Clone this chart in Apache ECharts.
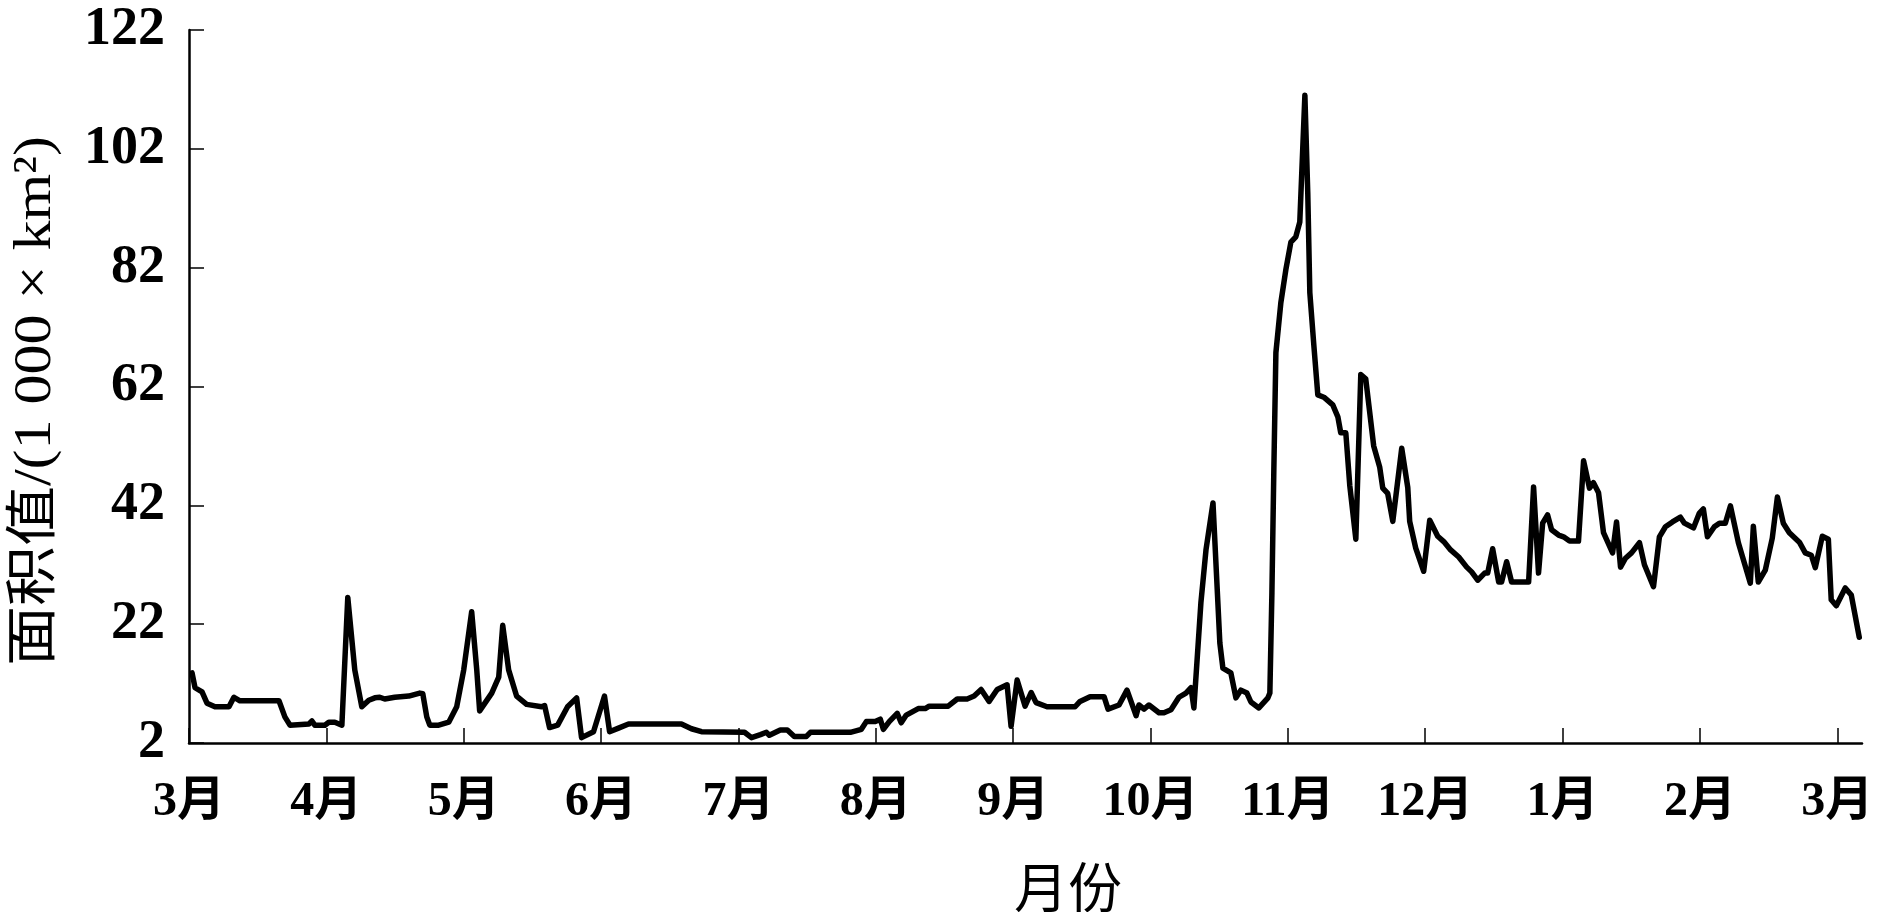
<!DOCTYPE html>
<html>
<head>
<meta charset="utf-8">
<script src="https://cdn.jsdelivr.net/npm/echarts@6/dist/echarts.min.js"></script>
<style>
html,body{margin:0;padding:0;background:#fff;}
#chart{width:1890px;height:912px;}
</style>
</head>
<body>
<div id="chart"></div>
<script>
// Tick labels
const monthLabels = ['3月','4月','5月','6月','7月','8月','9月','10月','11月','12月','1月','2月','3月'];
const yMin = 2, yMax = 122, yStep = 20;
const xMax = 12.18;
const yAxisTitle = '面积值/(1 000 × km²)';
const xAxisTitle = '月份';

// Position along the time axis, in months since the start of March
const monthPos = [
 0.022,0.044,0.095,0.131,0.189,0.291,0.327,0.371,0.655,0.698,
 0.735,0.873,0.895,0.916,0.989,1.018,1.062,1.113,1.156,1.207,
 1.258,1.309,1.353,1.389,1.425,1.498,1.600,1.680,1.702,1.731,
 1.753,1.818,1.891,1.949,2.000,2.058,2.095,2.116,2.204,2.255,
 2.284,2.327,2.385,2.458,2.567,2.589,2.625,2.684,2.756,2.822,
 2.858,2.945,3.025,3.062,3.127,3.200,3.585,3.658,3.731,4.044,
 4.095,4.160,4.204,4.225,4.305,4.356,4.407,4.495,4.524,4.815,
 4.895,4.931,4.996,5.033,5.055,5.098,5.156,5.185,5.222,5.309,
 5.360,5.389,5.527,5.593,5.665,5.716,5.767,5.825,5.884,5.956,
 5.985,6.029,6.087,6.131,6.167,6.247,6.451,6.487,6.560,6.662,
 6.691,6.771,6.829,6.895,6.916,6.953,6.989,7.062,7.098,7.149,
 7.207,7.258,7.295,7.316,7.367,7.404,7.455,7.505,7.527,7.585,
 7.622,7.658,7.702,7.731,7.789,7.855,7.869,7.884,7.898,7.913,
 7.949,7.985,8.022,8.058,8.087,8.124,8.145,8.160,8.189,8.218,
 8.262,8.327,8.364,8.385,8.422,8.451,8.495,8.531,8.567,8.625,
 8.669,8.691,8.727,8.764,8.829,8.873,8.887,8.931,8.989,9.033,
 9.091,9.135,9.185,9.244,9.302,9.338,9.382,9.433,9.455,9.491,
 9.535,9.556,9.593,9.629,9.753,9.789,9.825,9.855,9.891,9.920,
 9.971,10.007,10.051,10.116,10.153,10.196,10.225,10.262,10.298,10.364,
 10.393,10.422,10.458,10.502,10.560,10.596,10.662,10.705,10.749,10.800,
 10.858,10.887,10.953,10.996,11.025,11.055,11.105,11.142,11.185,11.222,
 11.280,11.367,11.389,11.425,11.476,11.527,11.564,11.607,11.651,11.724,
 11.767,11.811,11.840,11.891,11.935,11.956,11.993,12.058,12.102,12.160
];

// Area value (1 000 km²)
const area = [
 13.8,11.3,10.6,8.7,8.1,8.1,9.7,9.1,9.1,6.4,
 5.0,5.2,5.7,5.0,5.0,5.5,5.5,5.0,26.5,14.3,
 8.1,9.2,9.6,9.7,9.4,9.7,9.9,10.4,10.3,6.4,
 5.0,5.0,5.5,8.1,14.3,24.1,14.3,7.4,10.4,13.1,
 21.8,14.3,9.9,8.5,8.1,8.3,4.6,5.0,8.1,9.6,
 2.9,3.9,9.9,3.9,4.5,5.2,5.2,4.4,3.9,3.8,
 2.9,3.4,3.8,3.3,4.2,4.2,3.1,3.1,3.8,3.8,
 4.3,5.6,5.6,6.0,4.3,5.6,7.0,5.4,6.7,7.8,
 7.8,8.2,8.2,9.4,9.4,9.9,11.0,9.0,11.0,11.8,
 4.8,12.6,8.2,10.5,8.8,8.1,8.1,9.0,9.8,9.8,
 7.7,8.4,10.9,6.6,8.4,7.7,8.4,7.1,7.1,7.6,
 9.7,10.4,11.3,7.9,25.6,34.5,42.4,18.8,14.6,13.8,
 9.6,10.9,10.4,8.9,7.9,9.6,10.4,27.3,48.0,67.7,
 76.1,81.6,86.3,87.2,89.7,111.0,94.6,77.8,69.0,60.6,
 60.2,58.9,56.9,54.2,54.2,45.3,36.3,64.0,63.3,52.0,
 48.4,44.9,44.0,39.3,51.6,45.0,39.3,34.8,30.9,39.5,
 36.8,35.9,34.5,33.3,31.6,30.8,29.4,30.6,30.6,34.7,
 29.1,29.1,32.5,29.1,29.1,45.1,30.6,39.0,40.4,37.9,
 37.0,36.7,36.0,36.0,49.5,44.9,45.8,44.1,37.4,34.0,
 39.2,31.6,33.1,34.0,35.7,32.0,28.3,36.7,38.4,39.2,
 40.0,39.0,38.2,40.7,41.4,36.7,38.4,39.0,39.0,41.9,
 35.7,28.9,38.5,29.1,31.1,36.5,43.4,39.0,37.4,35.8,
 34.0,33.6,31.5,36.8,36.3,26.1,25.1,28.1,26.9,19.8
];

const monthTicks = monthLabels.map((_, i) => i);
const seriesData = monthPos.map((m, i) => [m, area[i]]);

const serifFont = '"Liberation Serif", "Noto Sans CJK SC", serif';

const chart = echarts.init(document.getElementById('chart'), null, {renderer: 'canvas'});
chart.setOption({
  animation: false,
  backgroundColor: '#ffffff',
  grid: {left: 189, right: 28, top: 30, bottom: 169, containLabel: false, outerBoundsMode: 'none'},
  xAxis: {
    type: 'value',
    min: 0,
    max: xMax,
    interval: 1,
    splitLine: {show: false},
    axisLine: {show: true, lineStyle: {color: '#000', width: 2.5}},
    axisTick: {show: true, inside: true, length: 15, lineStyle: {color: '#000', width: 1.5}, customValues: monthTicks},
    axisLabel: {
      customValues: monthTicks,
      formatter: v => monthLabels[Math.round(v)] || '',
      color: '#000',
      fontFamily: serifFont,
      fontWeight: 'bold',
      fontSize: 48,
      margin: 36
    }
  },
  yAxis: {
    type: 'value',
    min: yMin,
    max: yMax,
    interval: yStep,
    splitLine: {show: false},
    axisLine: {show: true, lineStyle: {color: '#000', width: 2.5}},
    axisTick: {show: true, inside: true, length: 15, lineStyle: {color: '#000', width: 1.5}},
    axisLabel: {color: '#000', fontFamily: serifFont, fontWeight: 'bold', fontSize: 54, margin: 24}
  },
  graphic: [{
    type: 'text',
    x: 36,
    y: 401,
    rotation: Math.PI / 2,
    scaleY: 0.88,
    style: {
      text: yAxisTitle,
      fill: '#000',
      font: '60px "Liberation Serif", "Noto Sans CJK SC"',
      align: 'center',
      verticalAlign: 'middle'
    }
  }, {
    type: 'text',
    x: 1068,
    y: 887,
    style: {
      text: xAxisTitle,
      fill: '#000',
      font: '54px "Noto Sans CJK SC"',
      align: 'center',
      verticalAlign: 'middle'
    }
  }],
  series: [{
    type: 'line',
    data: seriesData,
    showSymbol: false,
    symbol: 'none',
    smooth: false,
    lineStyle: {color: '#000', width: 5.5, join: 'round', cap: 'round'}
  }]
});
</script>
</body>
</html>
